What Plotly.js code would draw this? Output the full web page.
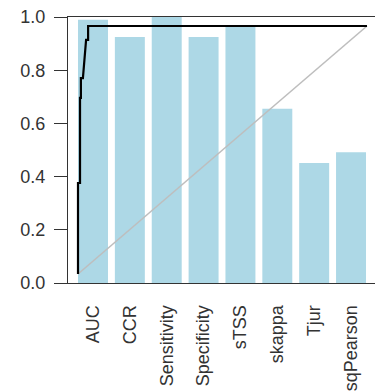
<!DOCTYPE html>
<html>
<head>
<meta charset="utf-8">
<script src="https://cdn.plot.ly/plotly-3.0.1.min.js"></script>
<style>
html,body{margin:0;padding:0;background:#fff;}
#chart{width:375px;height:391px;}
</style>
</head>
<body>
<div id="chart"></div>
<script>
// Metric bars
var metrics = ["AUC", "CCR", "Sensitivity", "Specificity", "sTSS", "skappa", "Tjur", "sqPearson"];
var metricValues = [0.99, 0.925, 1.0, 0.925, 0.963, 0.655, 0.451, 0.492];

// ROC curve (false positive rate, true positive rate)
var rocFPR = [0, 0, 0.007, 0.007, 0.010, 0.010, 0.017, 0.021, 0.024, 0.028, 0.035, 0.035, 1];
var rocTPR = [0, 0.367, 0.367, 0.71, 0.71, 0.79, 0.79, 0.862, 0.895, 0.944, 0.944, 1.0, 1];

// Reference diagonal
var diagX = [0, 1];
var diagY = [0, 1];

var yTickVals = [0, 0.2, 0.4, 0.6, 0.8, 1.0];
var yTickText = ["0.0", "0.2", "0.4", "0.6", "0.8", "1.0"];

var font = {family: "Liberation Sans, Arial, sans-serif", size: 18, color: "#333"};

var traces = [
  {
    type: "bar",
    x: metrics.map(function(_, i){ return i; }),
    y: metricValues,
    width: 0.813,
    marker: {color: "#ADD8E6", line: {width: 0}},
    hoverinfo: "skip"
  },
  {
    type: "scatter", mode: "lines",
    x: diagX, y: diagY, xaxis: "x2", yaxis: "y2",
    line: {color: "#BEBEBE", width: 1.6},
    hoverinfo: "skip"
  },
  {
    type: "scatter", mode: "lines",
    x: rocFPR, y: rocTPR, xaxis: "x2", yaxis: "y2",
    line: {color: "#000", width: 2.2},
    hoverinfo: "skip"
  }
];

var layout = {
  width: 375, height: 391,
  margin: {l: 68, r: 0, t: 17, b: 108, pad: 0},
  paper_bgcolor: "#fff", plot_bgcolor: "#fff",
  showlegend: false,
  font: font,
  xaxis: {
    range: [-0.678, 7.65],
    tickvals: metrics.map(function(_, i){ return i; }),
    ticktext: metrics,
    tickangle: -90,
    ticks: "",
    ticklabelstandoff: 14,
    showgrid: false, zeroline: false,
    showline: true, mirror: true, linecolor: "#333", linewidth: 1,
    tickfont: font,
    fixedrange: true
  },
  yaxis: {
    range: [0, 1],
    tickvals: yTickVals,
    ticktext: yTickText,
    ticks: "outside", ticklen: 13, tickcolor: "#333", tickwidth: 1,
    ticklabelstandoff: 5,
    showgrid: false, zeroline: false,
    showline: true, linecolor: "#333", linewidth: 1,
    tickfont: font,
    fixedrange: true
  },
  xaxis2: {
    overlaying: "x", range: [-0.0346, 1.0277],
    visible: false, showgrid: false, zeroline: false, fixedrange: true
  },
  yaxis2: {
    overlaying: "y", range: [-0.0363, 1.0363],
    visible: false, showgrid: false, zeroline: false, fixedrange: true
  }
};

Plotly.newPlot("chart", traces, layout, {displayModeBar: false, staticPlot: true});
</script>
</body>
</html>
